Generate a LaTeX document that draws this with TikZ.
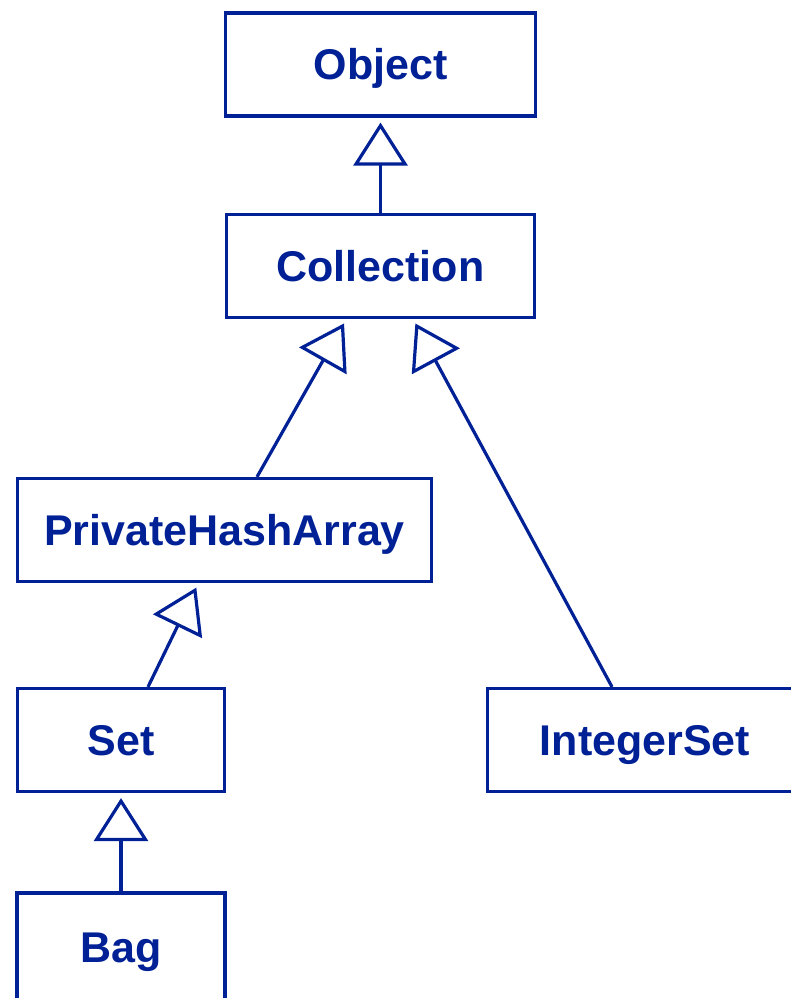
\documentclass[tikz,border=0pt]{standalone}
\usepackage{fontspec}
\setmainfont{Liberation Sans}
\usetikzlibrary{arrows.meta}
\definecolor{umlblue}{RGB}{0,32,150}
\tikzset{
  cls/.style={draw=umlblue, line width=3.2pt, text=umlblue, font=\fontsize{43pt}{50pt}\selectfont\bfseries,
    minimum height=103pt, text height=31pt, text depth=0pt, inner sep=0pt},
  isa/.style={draw=umlblue, line width=3.2pt, -{Triangle[open, length=43pt, width=54pt]}, shorten >=5pt}
}

\begin{document}
\begin{tikzpicture}[node distance=206pt]
      \useasboundingbox (0pt,0pt) rectangle (790pt,-998pt);
      \node [cls, minimum width=310pt] (obj) at (380.5pt,-64.5pt) {Object};
      \node [cls, minimum width=308pt, below of=obj, yshift=4.5pt] (coll) {Collection};
      \node [cls, minimum width=414pt, below of=coll, xshift=-156pt, yshift=-58pt] (pha) {PrivateHashArray};
      \node [cls, minimum width=207pt, below of=pha, xshift=-103.5pt, yshift=-4pt] (set) {Set};
      \node [cls, minimum width=315pt, right of=set, xshift=318pt] (intset) {IntegerSet};
      \node [cls, minimum width=208pt, minimum height=108pt, below of=set, yshift=-1pt] (bag) {Bag};

      \draw [isa] (coll.north) -- (obj.south);
      \draw [isa] ([xshift=32.5pt]pha.north) -- ([xshift=-34pt]coll.south);
      \draw [isa] ([xshift=-33pt]intset.north) -- ([xshift=32.5pt]coll.south);
      \draw [isa] ([xshift=27pt]set.north) -- ([xshift=-26pt]pha.south);
      \draw [isa] (bag.north) -- (set.south);
    \end{tikzpicture}
\end{document}
